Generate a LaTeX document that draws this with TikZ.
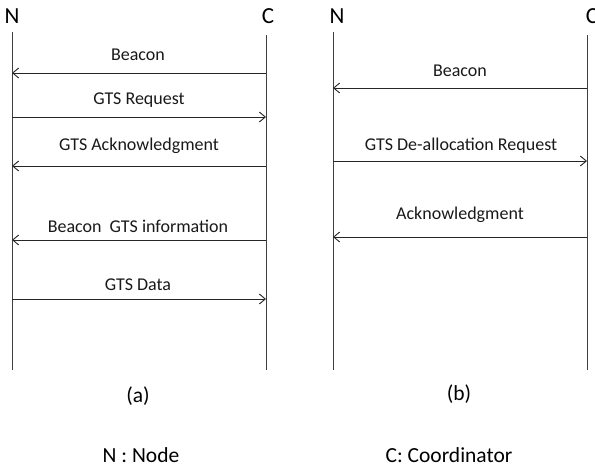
\documentclass[tikz,border=0pt]{standalone}
\usepackage{fontspec}
\setmainfont{Carlito}
\usetikzlibrary{arrows.meta}
\begin{document}
\begin{tikzpicture}[x=1pt,y=-1pt,
  life/.style={draw=black!75,line width=0.9pt},
  msg/.style={draw=black!85,line width=0.9pt,-{Straight Barb[length=6pt,width=10pt]}},
  lbl/.style={font=\fontsize{18}{20}\selectfont,inner sep=0pt,text=black!90},
  head/.style={font=\fontsize{23}{26}\selectfont,inner sep=0pt},
  captext/.style={font=\fontsize{21.5}{24}\selectfont,inner sep=0pt}]
\useasboundingbox (0,0) rectangle (595,468);
% left diagram
\node[head] (aNh) at (12,16) {N};
\node[head] (aCh) at (268,16) {C};
\coordinate (aNt) at (12,32); \coordinate (aNb) at (12,370);
\coordinate (aCt) at (266,35); \coordinate (aCb) at (266,370);
\draw[life] (aNt) -- (aNb);
\draw[life] (aCt) -- (aCb);
\foreach \n/\y in {1/73,2/117,3/166,4/240,5/299}{
  \coordinate (aN\n) at (12,\y); \coordinate (aC\n) at (266,\y);}
\draw[msg] (aC1) -- (aN1);
\draw[msg] (aN2) -- (aC2);
\draw[msg] (aC3) -- (aN3);
\draw[msg] (aC4) -- (aN4);
\draw[msg] (aN5) -- (aC5);
\node[lbl] (al1) at (138,55) {Beacon};
\node[lbl] (al2) at (139,100) {GTS Request};
\node[lbl] (al3) at (139,146) {GTS Acknowledgment};
\node[lbl] (al4) at (138,226) {Beacon\ \ GTS information};
\node[lbl] (al5) at (138,285) {GTS Data};
\node[captext] (capa) at (138,396) {(a)};
% right diagram
\node[head] (bNh) at (337,16) {N};
\node[head] (bCh) at (592,16) {C};
\coordinate (bNt) at (333,32); \coordinate (bNb) at (333,370);
\coordinate (bCt) at (587,35); \coordinate (bCb) at (587,370);
\draw[life] (bNt) -- (bNb);
\draw[life] (bCt) -- (bCb);
\foreach \n/\y in {1/88,2/161,3/237}{
  \coordinate (bN\n) at (333,\y); \coordinate (bC\n) at (587,\y);}
\draw[msg] (bC1) -- (bN1);
\draw[msg] (bN2) -- (bC2);
\draw[msg] (bC3) -- (bN3);
\node[lbl] (bl1) at (460,71) {Beacon};
\node[lbl] (bl2) at (461,146) {GTS\ De-allocation Request};
\node[lbl] (bl3) at (460,215) {Acknowledgment};
\node[captext] (capb) at (459,394) {(b)};
% legend
\node[captext] (legN) at (141,455) {N : Node};
\node[captext] (legC) at (449,455) {C: Coordinator};
\end{tikzpicture}
\end{document}
